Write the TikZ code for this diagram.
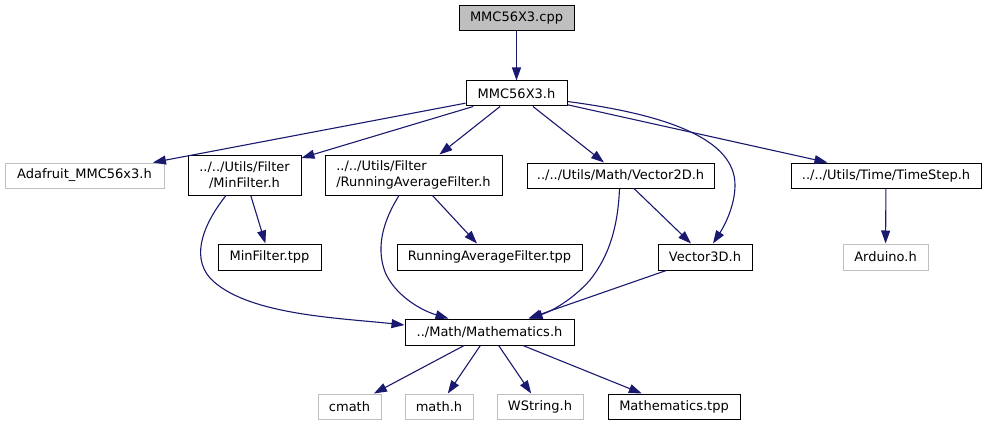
\documentclass[tikz,border=0pt]{standalone}
\usepackage{fontspec}
\setmainfont{DejaVu Sans}
\usetikzlibrary{arrows.meta,calc}
\definecolor{edgec}{HTML}{191970}
\definecolor{greyc}{HTML}{BFBFBF}
\begin{document}
\begin{tikzpicture}[x=1pt,y=-1pt,
  box/.style={draw=black, line width=1pt, inner sep=0pt, font=\fontsize{13}{16}\selectfont, text=black},
  gbox/.style={box, draw=greyc},
  edge/.style={draw=edgec, line width=1.1pt, -{Triangle[length=13pt,width=9pt]}}]
\useasboundingbox (0,0) rectangle (987,425);
\node[box, fill=greyc, minimum width=115, minimum height=25] (cpp) at (516.5,18.5) {MMC56X3.cpp};
\node[box, minimum width=101, minimum height=25] (h) at (516.5,93.5) {MMC56X3.h};
\node[gbox, minimum width=159, minimum height=25] (ada) at (84.5,175.5) {Adafruit\_MMC56x3.h};
\node[box, minimum width=113, minimum height=40, align=center] (mf) at (244.5,175) {../../Utils/Filter\\/MinFilter.h};
\node[box, minimum width=177, minimum height=40, align=left] (raf) at (413.5,175) {../../Utils/Filter\\/RunningAverageFilter.h};
\node[box, minimum width=187, minimum height=25] (v2) at (620.5,175.5) {../../Utils/Math/Vector2D.h};
\node[box, minimum width=190, minimum height=25] (ts) at (886,175.5) {../../Utils/Time/TimeStep.h};
\node[box, minimum width=103, minimum height=26] (mft) at (269.5,257) {MinFilter.tpp};
\node[box, minimum width=185, minimum height=26] (raft) at (489.5,257) {RunningAverageFilter.tpp};
\node[box, minimum width=94, minimum height=26] (v3) at (705,257) {Vector3D.h};
\node[gbox, minimum width=85, minimum height=26] (ard) at (885.5,257) {Arduino.h};
\node[box, minimum width=169, minimum height=26] (mh) at (489.5,332) {../Math/Mathematics.h};
\node[gbox, minimum width=63, minimum height=25] (cm) at (349.5,406.5) {cmath};
\node[gbox, minimum width=68, minimum height=25] (mth) at (439,406.5) {math.h};
\node[gbox, minimum width=86, minimum height=25] (ws) at (540,406.5) {WString.h};
\node[box, minimum width=132, minimum height=25] (mt) at (674,406.5) {Mathematics.tpp};
% straight edges
\draw[edge] (cpp) -- (h);
\draw[edge] (h) -- (ada);
\draw[edge] (h) -- (mf);
\draw[edge] (h) -- (raf);
\draw[edge] (h) -- (v2);
\draw[edge] (h) -- (ts);
\draw[edge] (mf) -- (mft);
\draw[edge] (raf) -- (raft);
\draw[edge] (v2) -- (v3);
\draw[edge] (v3) -- (mh);
\draw[edge] (ts) -- (ard);
\draw[edge] (mh) -- (cm);
\draw[edge] (mh) -- (mth);
\draw[edge] (mh) -- (ws);
\draw[edge] (mh) -- (mt);
% curved edges
\draw[edge] ($(h.east)+(0,8)$) .. controls (670,115) and (735,140) .. (735,185)
  .. controls (735,205) and (725,225) .. ($(v3.north)+(8,0)$);
\draw[edge] ($(mf.south)+(-18.5,0)$) .. controls (205,222) and (190,255) .. (210,278)
  .. controls (245,315) and (340,318) .. ($(mh.west)+(0,-7)$);
\draw[edge] ($(raf.south)+(-14.5,0)$) .. controls (385,218) and (375,245) .. (385,272)
  .. controls (395,295) and (420,310) .. ($(mh.north)+(-41,0)$);
\draw[edge] ($(v2.south)+(-1,0)$) .. controls (618,225) and (610,255) .. (590,280)
  .. controls (575,297) and (555,310) .. ($(mh.north)+(40,0)$);
\end{tikzpicture}
\end{document}
